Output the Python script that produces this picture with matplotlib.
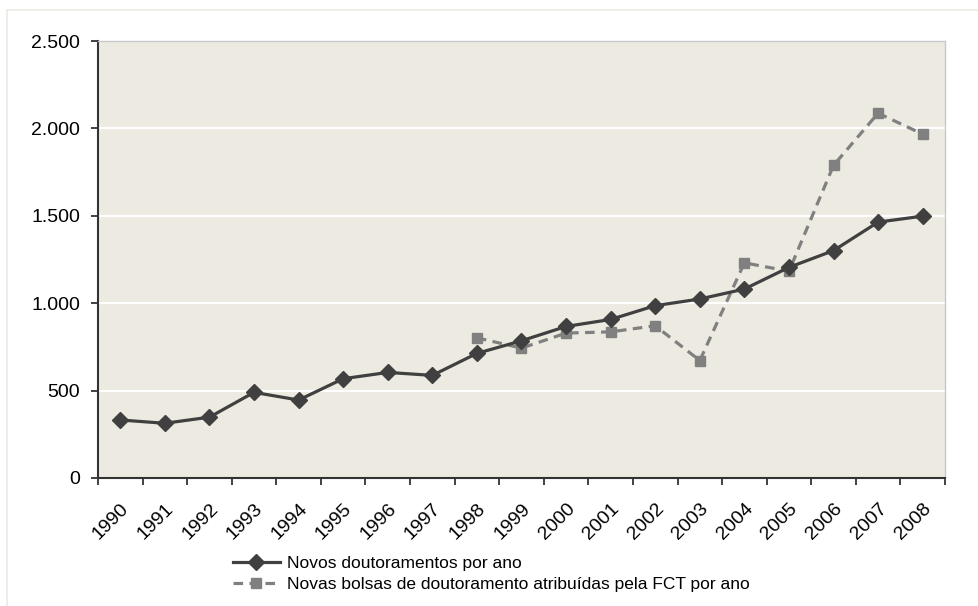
import numpy as np
import matplotlib
import matplotlib.pyplot as plt
from matplotlib.lines import Line2D
from matplotlib.ticker import FixedLocator, FuncFormatter

matplotlib.rcParams.update(
    {
        "font.family": ["Liberation Sans", "DejaVu Sans"],
        "font.size": 14,
    }
)

years = [str(y) for y in range(1990, 2009)]

# novos doutoramentos (1990-2008)
doutoramentos = [332, 313, 348, 490, 446, 568, 604, 587, 713, 785,
                 867, 907, 986, 1024, 1081, 1205, 1301, 1464, 1498]

# bolsas FCT, só a partir de 1998
bolsas_years = [str(y) for y in range(1998, 2009)]
bolsas = [802, 743, 829, 836, 871, 672, 1231, 1183, 1789, 2087, 1967]

label_dout = "Novos doutoramentos por ano"
label_bolsas = "Novas bolsas de doutoramento atribuídas pela FCT por ano"

W, H = 979, 606
fig = plt.figure(figsize=(W / 100, H / 100), dpi=100)
ax = fig.add_axes([98 / W, 1 - 478 / H, (945 - 98) / W, (478 - 41) / H])
ax.set_facecolor("#edebe1")

x = np.arange(len(years))
xb = np.array([years.index(y) for y in bolsas_years])

ax.plot(x, doutoramentos, color="#404040", lw=2.3, marker="D", ms=8.5,
        mec="#404040", mfc="#404040", label=label_dout, zorder=4)
ax.plot(xb, bolsas, color="#808080", lw=2.3, ls=(0, (3, 2)), marker="s",
        ms=7.5, mec="#808080", mfc="#808080", label=label_bolsas, zorder=3)

ax.set_xlim(-0.5, len(years) - 0.5)
ax.set_ylim(0, 2500)

ax.set_yticks(np.arange(0, 2501, 500))
ax.yaxis.set_major_formatter(FuncFormatter(lambda v, _: f"{v:,.0f}".replace(",", ".")))
ax.grid(axis="y", color="white", lw=1.5)
ax.set_axisbelow(True)

ax.set_xticks(x)
ax.set_xticklabels(years, rotation=45, ha="right", va="top", rotation_mode="anchor")
ax.xaxis.set_minor_locator(FixedLocator(np.arange(-0.5, len(years), 1.0)))
ax.tick_params(axis="x", which="major", length=0, pad=16)
ax.tick_params(axis="x", which="minor", length=5, width=1.3, color="#333333")
ax.tick_params(axis="y", length=5, width=1.3, color="#333333", pad=8)

for side in ("left", "bottom"):
    ax.spines[side].set_color("#333333")
    ax.spines[side].set_linewidth(1.5)
for side in ("top", "right"):
    ax.spines[side].set_color("#c8c8c8")
    ax.spines[side].set_linewidth(1.0)

# moldura clara da área do gráfico
fig.add_artist(Line2D([7 / W, 1], [1 - 10 / H, 1 - 10 / H], color="#ebebe3", lw=1.2))
fig.add_artist(Line2D([7 / W, 7 / W], [0, 1 - 10 / H], color="#ebebe3", lw=1.2))

handles, labels = ax.get_legend_handles_labels()
fig.legend(
    handles,
    labels,
    loc="upper left",
    bbox_to_anchor=(233 / W, 1 - 556 / H),
    frameon=False,
    fontsize=12.5,
    handlelength=2.7,
    handletextpad=0.4,
    labelspacing=0.35,
    borderpad=0,
    borderaxespad=0,
)

fig.savefig("out.png", dpi=100)
